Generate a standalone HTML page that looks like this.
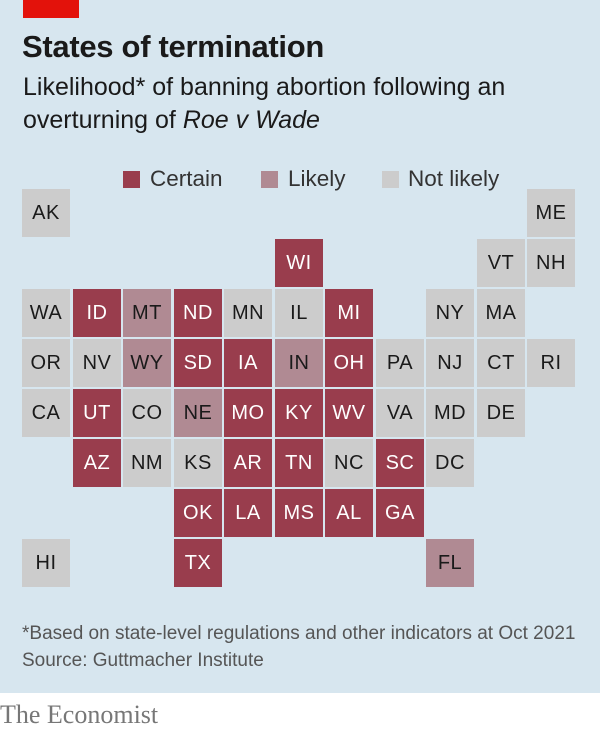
<!DOCTYPE html>
<html><head><meta charset="utf-8"><style>
body{margin:0;width:600px;height:729px;background:#fff;position:relative;overflow:hidden;font-family:"Liberation Sans",sans-serif}
#bg{position:absolute;left:0;top:0;width:600px;height:693px;background:#d7e6ef}
.c{position:absolute;width:48px;height:48px;display:flex;align-items:center;justify-content:center;font-size:20px;color:#1a1a1a;letter-spacing:0.5px}
.n{background:#cccccc}.l{background:#b08a93}.r{background:#993d4d;color:#fff}
.t{position:absolute;white-space:nowrap}
.sq{position:absolute;width:17px;height:17px}
</style></head><body>
<div id="bg"></div>
<div style="position:absolute;left:23px;top:0;width:56px;height:18px;background:#e3120b"></div>
<div class="t" style="left:22px;top:29px;font-size:31px;font-weight:bold;color:#1a1a1a;letter-spacing:-0.3px">States of termination</div>
<div class="t" style="left:23px;top:71px;font-size:25px;color:#1a1a1a;line-height:33px">Likelihood* of banning abortion following an<br>overturning of <i>Roe v Wade</i></div>
<div class="sq r" style="left:123px;top:171px"></div><div class="t" style="left:150px;top:166px;font-size:22.5px;color:#333">Certain</div>
<div class="sq l" style="left:261px;top:171px"></div><div class="t" style="left:288px;top:166px;font-size:22.5px;color:#333">Likely</div>
<div class="sq n" style="left:382px;top:171px"></div><div class="t" style="left:408px;top:166px;font-size:22.5px;color:#333">Not likely</div>
<div id="g"></div>
<div class="t" style="left:22px;top:623px;font-size:19px;color:#555">*Based on state-level regulations and other indicators at Oct 2021</div>
<div class="t" style="left:22px;top:650px;font-size:19px;color:#555">Source: Guttmacher Institute</div>
<div class="t" style="left:0px;top:700px;font-size:26px;color:#777;font-family:'Liberation Serif',serif">The Economist</div>
<script>
var d=[["AK",0,0,"n"],["ME",10,0,"n"],["WI",5,1,"r"],["VT",9,1,"n"],["NH",10,1,"n"],
["WA",0,2,"n"],["ID",1,2,"r"],["MT",2,2,"l"],["ND",3,2,"r"],["MN",4,2,"n"],["IL",5,2,"n"],["MI",6,2,"r"],["NY",8,2,"n"],["MA",9,2,"n"],
["OR",0,3,"n"],["NV",1,3,"n"],["WY",2,3,"l"],["SD",3,3,"r"],["IA",4,3,"r"],["IN",5,3,"l"],["OH",6,3,"r"],["PA",7,3,"n"],["NJ",8,3,"n"],["CT",9,3,"n"],["RI",10,3,"n"],
["CA",0,4,"n"],["UT",1,4,"r"],["CO",2,4,"n"],["NE",3,4,"l"],["MO",4,4,"r"],["KY",5,4,"r"],["WV",6,4,"r"],["VA",7,4,"n"],["MD",8,4,"n"],["DE",9,4,"n"],
["AZ",1,5,"r"],["NM",2,5,"n"],["KS",3,5,"n"],["AR",4,5,"r"],["TN",5,5,"r"],["NC",6,5,"n"],["SC",7,5,"r"],["DC",8,5,"n"],
["OK",3,6,"r"],["LA",4,6,"r"],["MS",5,6,"r"],["AL",6,6,"r"],["GA",7,6,"r"],
["HI",0,7,"n"],["TX",3,7,"r"],["FL",8,7,"l"]];
var h="";d.forEach(function(s){h+='<div class="c '+s[3]+'" style="left:'+Math.round(22+50.5*s[1])+'px;top:'+Math.round(189+50*s[2])+'px">'+s[0]+'</div>';});
document.getElementById("g").innerHTML=h;
</script>
</body></html>
